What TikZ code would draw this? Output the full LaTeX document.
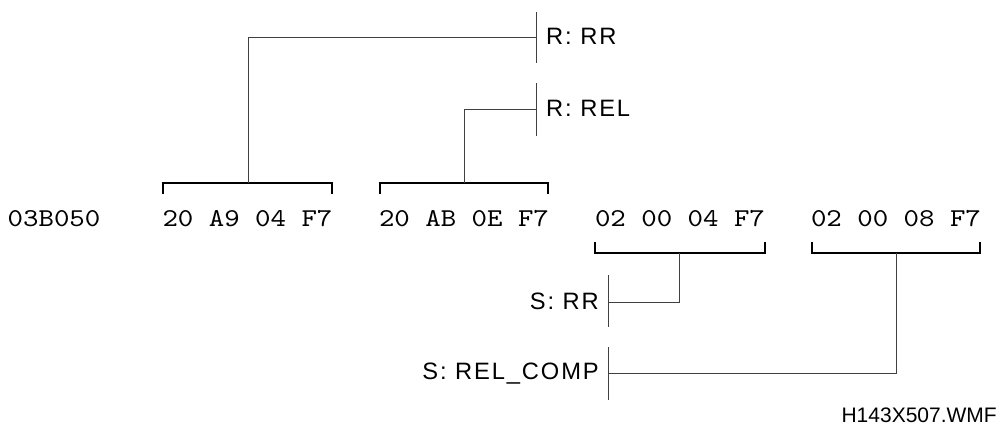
\documentclass[tikz,border=0pt]{standalone}
\usepackage{fontspec}
\setmainfont{Liberation Sans}
\newfontfamily\monofnt{lmmono10-regular.otf}[FakeStretch=1.145]
\newfontfamily\lsans[LetterSpace=8]{Liberation Sans}
\begin{document}
\begin{tikzpicture}[x=1pt,y=-1pt,
  hex/.style={inner sep=0pt,anchor=base,font=\monofnt\fontsize{25.7}{30}\selectfont},
  lbl/.style={inner sep=0pt,font=\lsans\fontsize{23.7}{28}\selectfont},
  bracket/.style={line width=2pt,black},
  conn/.style={line width=0.9pt,black!75},
  bar/.style={line width=1pt,black!75}]
\useasboundingbox (0,0) rectangle (1005,430);
% hex row
\node[hex] (addr) at (54,227) {03B050};
\node[hex] (g1) at (247.5,227) {20 A9 04 F7};
\node[hex] (g2) at (464,227) {20 AB 0E F7};
\node[hex] (g3) at (680,227) {02 00 04 F7};
\node[hex] (g4) at (896,227) {02 00 08 F7};
% brackets above
\coordinate (b1) at (248,183);
\coordinate (b2) at (464,183);
\draw[bracket] (163,194) -- (163,183) -- (332,183) -- (332,194);
\draw[bracket] (380,194) -- (380,183) -- (548,183) -- (548,194);
% brackets below
\coordinate (b3) at (679,253);
\coordinate (b4) at (896,253);
\draw[bracket] (595,242) -- (595,253) -- (765,253) -- (765,242);
\draw[bracket] (812,242) -- (812,253) -- (980,253) -- (980,242);
% R labels
\coordinate (r1) at (536,37);
\coordinate (r2) at (536,109);
\draw[bar] (536,12) -- (536,63);
\draw[bar] (536,83) -- (536,136);
\node[lbl,anchor=base west] (lr1) at (546,45) {R: RR};
\node[lbl,anchor=base west] (lr2) at (546,117) {R: REL};
\draw[conn] (b1) |- (r1);
\draw[conn] (b2) |- (r2);
% S labels
\coordinate (s1) at (608,302);
\coordinate (s2) at (608,373);
\draw[bar] (608,275) -- (608,327);
\draw[bar] (608,347) -- (608,400);
\node[lbl,anchor=base east] (ls1) at (599,310) {S: RR};
\node[lbl,anchor=base east] (ls2) at (599,380) {S: REL\_COMP};
\draw[conn] (b3) |- (s1);
\draw[conn] (b4) |- (s2);
% file name
\node[inner sep=0pt,anchor=base east,font=\fontsize{21}{25}\selectfont] (fn) at (997,423) {H143X507.WMF};
\end{tikzpicture}
\end{document}
